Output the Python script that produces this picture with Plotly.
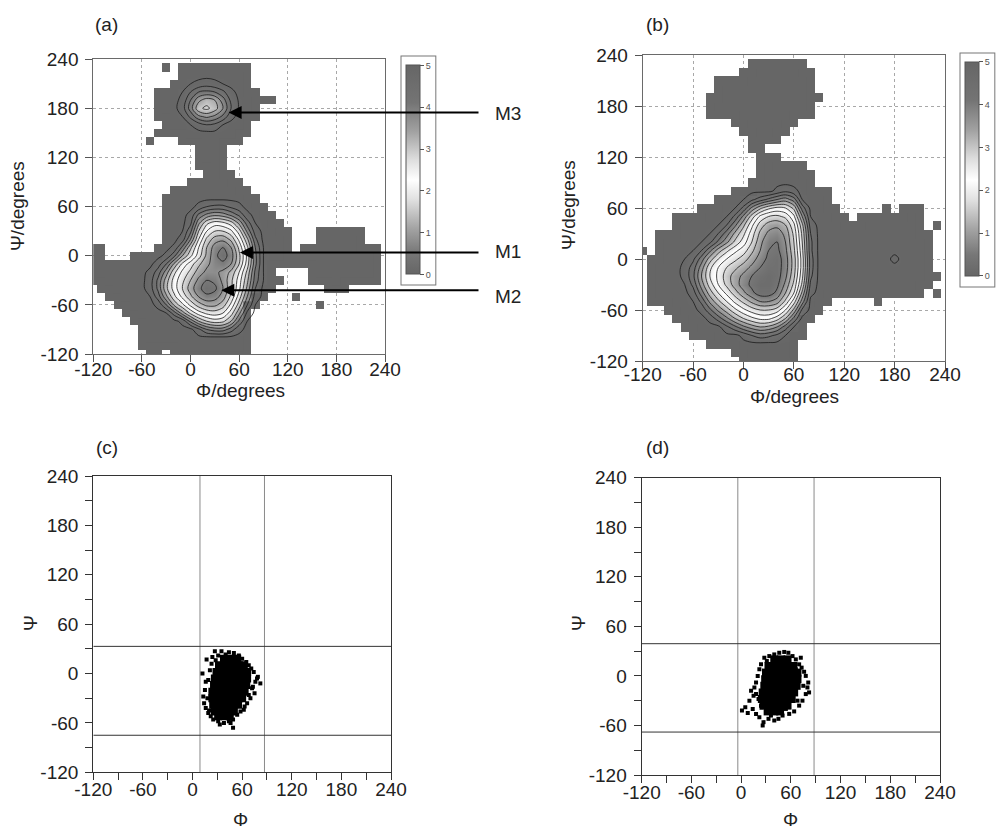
import numpy as np
import plotly.graph_objects as go

# ---------------- data (degrees) ----------------
GRID = list(range(-120, 241, 10))          # bin centres for Phi and Psi
TICK_VALS = [-120, -60, 0, 60, 120, 180, 240]
TICK_TEXT = ['-120', '-60', '0', '60', '120', '180', '240']
CBAR_TICKS = [0, 1, 2, 3, 4, 5]

# visited bins, per Psi row: list of (Phi_from, Phi_to) spans
MASK_A = {
    230: [(-30, -30), (-10, 70)], 220: [(-10, 70)], 210: [(-20, 70)], 200: [(-40, 80)],
    190: [(-40, 100)], 180: [(-40, 80)], 170: [(-40, 80)], 160: [(-30, 70)],
    150: [(-40, 70)], 140: [(-50, -50), (-10, 60)], 130: [(10, 40)], 120: [(10, 40)],
    110: [(10, 40)], 100: [(20, 50)], 90: [(0, 60)], 80: [(-20, 70)], 70: [(-30, 80)],
    60: [(-30, 90)], 50: [(-30, 100)], 40: [(-30, 110)], 30: [(-30, 120), (160, 210)],
    20: [(-30, 120), (160, 210)], 10: [(-120, -110), (-40, 120), (140, 230)],
    0: [(-120, -110), (-70, 230)], -10: [(-120, 230)], -20: [(-120, 100), (150, 230)],
    -30: [(-120, 110), (150, 230)], -40: [(-110, 100), (170, 190)],
    -50: [(-100, 90), (130, 130)], -60: [(-90, 80), (160, 160)], -70: [(-80, 70)],
    -80: [(-70, 70)], -90: [(-60, 70)], -100: [(-60, 70)], -110: [(-60, 70)],
    -120: [(-50, -40), (-20, 70)],
}
MASK_B = {
    230: [(10, 70)], 220: [(0, 80)], 210: [(-30, 80)], 200: [(-30, 80)], 190: [(-40, 90)],
    180: [(-40, 80)], 170: [(-40, 80)], 160: [(-10, 60)], 150: [(0, 50)], 140: [(10, 40)],
    130: [(10, 20)], 120: [(20, 40)], 110: [(20, 70)], 100: [(20, 80)], 90: [(10, 80)],
    80: [(-10, 100)], 70: [(-30, 100)], 60: [(-50, 110), (170, 170), (190, 210)],
    50: [(-80, 120), (140, 210)], 40: [(-80, 210), (230, 230)], 30: [(-100, 220)],
    20: [(-100, 220)], 10: [(-120, -120), (-100, 220)], 0: [(-110, 220)],
    -10: [(-110, 220)], -20: [(-110, 230)], -30: [(-110, 220)],
    -40: [(-110, 210), (230, 230)], -50: [(-110, 100), (160, 160)], -60: [(-90, 90)],
    -70: [(-80, 80)], -80: [(-70, 70)], -90: [(-60, 70)], -100: [(-40, 60)],
    -110: [(-10, 60)], -120: [(0, 60)],
}

# free-energy (kcal/mol) in the basins; everything else visited is 5
A_BASIN_PHI = list(range(-60, 101, 10))
A_BASIN_PSI = list(range(70, -101, -10))
A_BASIN_G = [
    [5, 5, 5, 5, 5, 5, 5, 5, 5, 5, 5, 5, 5, 5, 5, 5, 5],
    [5, 5, 5, 5, 5, 5, 5, 4.8, 4.5, 4.4, 4.4, 4.6, 4.8, 5, 5, 5, 5],
    [5, 5, 5, 5, 5, 5, 4.8, 4.0, 3.6, 3.4, 3.5, 3.8, 4.2, 4.8, 5, 5, 5],
    [5, 5, 5, 5, 5, 5, 4.6, 3.4, 2.6, 2.3, 2.4, 2.7, 3.4, 4.3, 4.9, 5, 5],
    [5, 5, 5, 5, 5, 4.9, 4.2, 2.9, 2.1, 1.7, 1.7, 2.0, 2.7, 3.8, 4.7, 5, 5],
    [5, 5, 5, 5, 5, 4.7, 3.7, 2.5, 1.6, 1.1, 1.0, 1.4, 2.2, 3.2, 4.4, 5, 5],
    [5, 5, 5, 5, 4.8, 4.0, 3.0, 2.1, 1.3, 0.7, 0.5, 0.9, 1.8, 2.8, 4.1, 4.9, 5],
    [5, 5, 5, 4.8, 4.2, 3.3, 2.6, 1.9, 1.2, 0.6, 0.3, 0.7, 1.6, 2.6, 4.0, 4.9, 5],
    [5, 5, 4.7, 4.1, 3.2, 2.4, 1.9, 1.4, 1.0, 0.7, 0.6, 0.9, 1.7, 2.7, 4.0, 4.9, 5],
    [5, 4.8, 4.3, 3.5, 2.6, 2.0, 1.6, 1.1, 0.8, 0.8, 1.0, 1.4, 2.1, 3.0, 4.2, 4.9, 5],
    [5, 4.7, 4.0, 3.1, 2.3, 1.8, 1.3, 0.8, 0.5, 0.6, 1.0, 1.6, 2.3, 3.2, 4.3, 4.9, 5],
    [5, 4.7, 4.0, 3.0, 2.3, 1.7, 1.1, 0.6, 0.3, 0.4, 0.9, 1.6, 2.4, 3.4, 4.5, 5, 5],
    [5, 4.9, 4.3, 3.4, 2.6, 2.0, 1.4, 0.9, 0.6, 0.7, 1.1, 1.8, 2.7, 3.7, 4.7, 5, 5],
    [5, 5, 4.8, 4.1, 3.2, 2.6, 2.0, 1.5, 1.2, 1.2, 1.5, 2.2, 3.1, 4.1, 4.9, 5, 5],
    [5, 5, 5, 4.9, 4.3, 3.5, 2.8, 2.3, 2.0, 1.9, 2.1, 2.7, 3.6, 4.6, 5, 5, 5],
    [5, 5, 5, 5, 5, 4.8, 4.0, 3.3, 2.9, 2.7, 2.8, 3.3, 4.2, 4.9, 5, 5, 5],
    [5, 5, 5, 5, 5, 5, 5, 4.6, 4.1, 3.9, 3.9, 4.3, 4.8, 5, 5, 5, 5],
    [5, 5, 5, 5, 5, 5, 5, 5, 5, 5, 5, 5, 5, 5, 5, 5, 5],
]
A_M3_PHI = list(range(-20, 71, 10))
A_M3_PSI = list(range(220, 149, -10))
A_M3_G = [
    [5, 5, 5, 5, 5, 5, 5, 5, 5, 5],
    [5, 5, 4.9, 4.8, 4.7, 4.8, 4.9, 5, 5, 5],
    [5, 4.9, 4.5, 4.1, 4.0, 4.1, 4.4, 4.8, 5, 5],
    [5, 4.8, 4.1, 3.4, 3.1, 3.3, 3.9, 4.6, 4.95, 5],
    [5, 4.7, 3.9, 3.0, 2.8, 3.1, 3.7, 4.5, 4.95, 5],
    [5, 4.9, 4.4, 3.8, 3.6, 3.8, 4.2, 4.8, 5, 5],
    [5, 5, 4.9, 4.7, 4.5, 4.6, 4.9, 5, 5, 5],
    [5, 5, 5, 5, 5, 5, 5, 5, 5, 5],
]
B_BASIN_PHI = list(range(-80, 101, 10))
B_BASIN_PSI = list(range(90, -101, -10))
B_BASIN_G = [
    [5, 5, 5, 5, 5, 5, 5, 5, 5, 5, 5, 5, 5, 5, 5, 5, 5, 5, 5],
    [5, 5, 5, 5, 5, 5, 5, 5, 5, 5, 5, 5, 4.8, 4.6, 4.8, 5, 5, 5, 5],
    [5, 5, 5, 5, 5, 5, 5, 5, 4.9, 4.6, 4.3, 4.0, 3.7, 3.5, 3.9, 4.9, 5, 5, 5],
    [5, 5, 5, 5, 5, 5, 5, 4.9, 4.4, 3.6, 3.0, 2.6, 2.4, 2.5, 3.0, 4.3, 5, 5, 5],
    [5, 5, 5, 5, 5, 5, 4.9, 4.4, 3.6, 2.7, 2.0, 1.7, 1.6, 1.8, 2.4, 3.7, 4.9, 5, 5],
    [5, 5, 5, 5, 5, 4.9, 4.5, 3.8, 3.0, 2.2, 1.5, 1.1, 1.0, 1.3, 2.0, 3.2, 4.7, 5, 5],
    [5, 5, 5, 5, 4.9, 4.5, 3.9, 3.2, 2.6, 1.9, 1.2, 0.8, 0.7, 1.0, 1.8, 3.0, 4.5, 5, 5],
    [5, 5, 5, 4.9, 4.6, 4.0, 3.4, 2.8, 2.3, 1.7, 1.0, 0.6, 0.5, 0.9, 1.7, 2.9, 4.4, 5, 5],
    [5, 5, 4.9, 4.5, 3.8, 3.1, 2.6, 2.2, 1.9, 1.4, 0.9, 0.5, 0.4, 0.8, 1.6, 2.8, 4.4, 5, 5],
    [5, 4.9, 4.6, 3.9, 3.1, 2.5, 2.1, 1.8, 1.5, 1.1, 0.7, 0.4, 0.3, 0.7, 1.5, 2.7, 4.3, 5, 5],
    [5, 4.8, 4.3, 3.5, 2.6, 2.1, 1.7, 1.4, 1.1, 0.8, 0.5, 0.3, 0.3, 0.7, 1.5, 2.7, 4.3, 5, 5],
    [5, 4.8, 4.2, 3.3, 2.5, 2.0, 1.5, 1.1, 0.8, 0.5, 0.3, 0.2, 0.3, 0.8, 1.6, 2.8, 4.4, 5, 5],
    [5, 4.9, 4.4, 3.5, 2.7, 2.1, 1.6, 1.1, 0.7, 0.4, 0.2, 0.2, 0.4, 1.0, 1.8, 3.0, 4.6, 5, 5],
    [5, 5, 4.7, 3.9, 3.1, 2.5, 2.0, 1.5, 1.0, 0.6, 0.3, 0.3, 0.6, 1.3, 2.1, 3.4, 4.8, 5, 5],
    [5, 5, 4.9, 4.4, 3.6, 3.0, 2.5, 2.0, 1.6, 1.2, 0.9, 0.9, 1.1, 1.8, 2.7, 3.9, 5, 5, 5],
    [5, 5, 5, 4.8, 4.2, 3.6, 3.1, 2.6, 2.2, 1.9, 1.7, 1.7, 1.9, 2.5, 3.4, 4.6, 5, 5, 5],
    [5, 5, 5, 5, 4.8, 4.3, 3.8, 3.3, 2.9, 2.6, 2.4, 2.4, 2.7, 3.3, 4.2, 5, 5, 5, 5],
    [5, 5, 5, 5, 5, 5, 4.6, 4.2, 3.8, 3.5, 3.3, 3.4, 3.7, 4.3, 4.9, 5, 5, 5, 5],
    [5, 5, 5, 5, 5, 5, 5, 5, 4.8, 4.5, 4.3, 4.4, 4.6, 4.9, 5, 5, 5, 5, 5],
    [5, 5, 5, 5, 5, 5, 5, 5, 5, 5, 5, 5, 5, 5, 5, 5, 5, 5, 5],
]
B_DOT_PHI = [170, 180, 190]
B_DOT_PSI = [10, 0, -10]
B_DOT_G = [[5, 5, 5], [5, 4.8, 5], [5, 5, 5]]

# (c) / (d) sampled conformations
C_CORE_PHI = [38, 46, 54, 32, 40, 48, 56, 62, 29, 37, 45, 53, 61, 66, 27, 35, 43, 51, 59, 66,
              26, 34, 42, 50, 58, 65, 24, 32, 40, 48, 56, 63, 24, 32, 40, 48, 56, 60,
              25, 33, 41, 49, 55, 27, 35, 43, 50, 31, 39, 45]
C_CORE_PSI = [18, 18, 18, 10, 10, 10, 10, 10, 2, 2, 2, 2, 2, 2, -6, -6, -6, -6, -6, -6,
              -14, -14, -14, -14, -14, -14, -22, -22, -22, -22, -22, -22, -30, -30, -30, -30, -30, -30,
              -38, -38, -38, -38, -38, -46, -46, -46, -46, -52, -52, -52]
C_PHI = [27, 35, 44, 50, 17, 24, 31, 56, 60, 65, 68, 71, 74, 79, 82, 76, 72, 75, 70, 66,
         63, 58, 54, 49, 44, 38, 31, 25, 22, 19, 16, 14, 13, 15, 16, 12, 19, 21, 23, 28,
         49, 20, 18, 62, 68, 73, 78, 33, 46, 40]
C_PSI = [27, 27, 26, 25, 17, 20, 22, 22, 18, 14, 10, 6, 2, -4, -12, -10, -18, -24, -30, -36,
         -40, -46, -50, -56, -58, -60, -58, -56, -52, -48, -42, -36, -28, -20, -10, 0, -8, 4, 12, 16,
         -66, -45, -30, -44, -26, -16, -6, -62, -60, 23]
C_PHI_LINES = [9, 87]
C_PSI_LINES = [33, -75]

D_CORE_PHI = [40, 48, 56, 33, 41, 49, 57, 63, 30, 38, 46, 54, 62, 68, 29, 37, 45, 53, 61, 68,
              28, 36, 44, 52, 60, 67, 26, 34, 42, 50, 58, 64, 25, 33, 41, 49, 57, 61,
              27, 35, 43, 51, 56, 32, 40, 47]
D_CORE_PSI = [20, 20, 20, 12, 12, 12, 12, 12, 4, 4, 4, 4, 4, 4, -4, -4, -4, -4, -4, -4,
              -12, -12, -12, -12, -12, -12, -20, -20, -20, -20, -20, -20, -28, -28, -28, -28, -28, -28,
              -36, -36, -36, -36, -36, -43, -43, -43]
D_PHI = [10, 5, 1, 8, 14, 18, 22, 27, 26, 33, 40, 45, 50, 58, 64, 70, 74, 78, 80, 81,
         78, 76, 73, 70, 72, 66, 62, 57, 52, 46, 40, 34, 28, 24, 22, 20, 18, 16, 18, 21,
         15, 12, 24, 36, 54, 68, 75, 66, 31, 82]
D_PSI = [-30, -38, -42, -45, -40, -46, -50, -56, -60, -52, -54, -52, -48, -46, -43, -36, -30, -22, -14, -8,
         0, 5, 10, 14, 22, 20, 24, 28, 29, 28, 26, 24, 22, 14, 8, 0, -8, -14, -22, -28,
         -24, -18, -36, -48, -40, -30, -12, 8, 18, -20]
D_PHI_LINES = [-4, 88]
D_PSI_LINES = [39, -68]

# arrows in (a): label, tip Phi, tip Psi
ARROW_LABELS = ['M3', 'M1', 'M2']
ARROW_PHI = [47, 61, 38]
ARROW_PSI = [175, 4, -42]

# ---------------- helpers ----------------
N = len(GRID)
W, H = 1002, 831
FONT = 'Liberation Sans, Arial, sans-serif'
FS = 19
DARK = '#666666'
CSCALE = [[0.0, '#666666'], [0.1, '#777777'], [0.22, '#a4a4a4'], [0.36, '#e2e2e2'],
          [0.45, '#ffffff'], [0.55, '#dcdcdc'], [0.68, '#a2a2a2'], [0.82, '#747474'],
          [1.0, '#666666']]


def idx(v):
    return (v + 120) // 10


def occupancy(spans):
    g = np.zeros((N, N), dtype=bool)
    for psi, segs in spans.items():
        for a, b in segs:
            g[idx(psi), idx(a):idx(b) + 1] = True
    return g


def energy(windows):
    g = np.full((N, N), 5.0)
    for phis, psis, vals in windows:
        for r, psi in enumerate(psis):
            for c, phi in enumerate(phis):
                g[idx(psi), idx(phi)] = vals[r][c]
    return g


def interior(occ):
    p = np.pad(occ, 1, constant_values=False)
    out = np.ones_like(occ)
    for dr in (-1, 0, 1):
        for dc in (-1, 0, 1):
            out &= p[1 + dr:1 + dr + N, 1 + dc:1 + dc + N]
    return out


def px(x):
    return x / W


def py(y):
    return 1 - y / H


fig = go.Figure()


def fes_panel(k, spans, windows, cax):
    xa, ya = ('x', 'y') if k == 1 else ('x%d' % k, 'y%d' % k)
    occ = occupancy(spans)
    g = energy(windows)
    mask_z = [[1 if occ[r, c] else None for c in range(N)] for r in range(N)]
    fig.add_trace(go.Heatmap(x=GRID, y=GRID, z=mask_z, zsmooth=False, showscale=False,
                             colorscale=[[0, DARK], [1, DARK]], hoverinfo='skip',
                             xaxis=xa, yaxis=ya))
    inn = interior(occ)
    smooth_z = [[float(g[r, c]) if inn[r, c] else None for c in range(N)] for r in range(N)]
    fig.add_trace(go.Heatmap(x=GRID, y=GRID, z=smooth_z, zsmooth='best', coloraxis=cax,
                             hoverinfo='skip', xaxis=xa, yaxis=ya))
    fig.add_trace(go.Contour(x=GRID, y=GRID, z=g.tolist(), showscale=False,
                             contours=dict(start=0.5, end=4.9, size=0.4, coloring='none'),
                             line=dict(color='#1a1a1a', width=0.8, smoothing=1.0),
                             hoverinfo='skip', xaxis=xa, yaxis=ya))


fes_panel(1, MASK_A, [(A_BASIN_PHI, A_BASIN_PSI, A_BASIN_G), (A_M3_PHI, A_M3_PSI, A_M3_G)],
          'coloraxis')
fes_panel(2, MASK_B, [(B_BASIN_PHI, B_BASIN_PSI, B_BASIN_G), (B_DOT_PHI, B_DOT_PSI, B_DOT_G)],
          'coloraxis2')


def scatter_panel(k, core_phi, core_psi, phi, psi):
    xa, ya = 'x%d' % k, 'y%d' % k
    fig.add_trace(go.Scatter(x=core_phi, y=core_psi, mode='markers', xaxis=xa, yaxis=ya,
                             marker=dict(symbol='square', size=8, color='black'),
                             hoverinfo='skip'))
    fig.add_trace(go.Scatter(x=phi, y=psi, mode='markers', xaxis=xa, yaxis=ya,
                             marker=dict(symbol='square', size=4, color='black'),
                             hoverinfo='skip'))


scatter_panel(3, C_CORE_PHI, C_CORE_PSI, C_PHI, C_PSI)
scatter_panel(4, D_CORE_PHI, D_CORE_PSI, D_PHI, D_PSI)

shapes = []
for k, vl, hl in [(3, C_PHI_LINES, C_PSI_LINES), (4, D_PHI_LINES, D_PSI_LINES)]:
    for v in vl:
        shapes.append(dict(type='line', xref='x%d' % k, yref='y%d' % k, x0=v, x1=v,
                           y0=-120, y1=240, line=dict(color='#8a8a8a', width=1), layer='below'))
    for h in hl:
        shapes.append(dict(type='line', xref='x%d' % k, yref='y%d' % k, x0=-120, x1=240,
                           y0=h, y1=h, line=dict(color='#333333', width=1), layer='below'))

# axes domains (pixel boxes of the plot areas)
BOX = {1: (93.3, 385, 59.3, 354), 2: (642.7, 945, 55, 361),
       3: (93.3, 391, 476, 772.3), 4: (641.7, 940, 477.7, 775)}
XSTAND = {1: -9, 2: -11, 3: -7, 4: -7}


def axis_common(k, is_x):
    grid = k <= 2
    d = dict(range=[-120, 240], tickmode='array', tickvals=TICK_VALS, ticktext=TICK_TEXT,
             ticks='outside', ticklen=7, tickwidth=1, zeroline=False, showline=True,
             mirror=True, automargin=False, ticklabelstandoff=(XSTAND[k] if is_x else 3),
             tickfont=dict(size=FS, color='#222222', family=FONT))
    if grid:
        d.update(showgrid=True, gridcolor='#a8a8a8', griddash='dot', gridwidth=1,
                 linecolor='#6a6a6a', linewidth=1, tickcolor='#555555')
    else:
        d.update(showgrid=False, linecolor='#333333', linewidth=1.3, tickcolor='#333333',
                 minor=dict(tickmode='linear', tick0=-120, dtick=30, ticks='outside',
                            ticklen=7, tickcolor='#333333', showgrid=False))
    return d


layout = dict(template='none', width=W, height=H, margin=dict(l=0, r=0, t=0, b=0, pad=0),
              showlegend=False, plot_bgcolor='white', paper_bgcolor='white',
              font=dict(family=FONT, color='#222222'), shapes=shapes)
for k in (1, 2, 3, 4):
    x0, x1, y0, y1 = BOX[k]
    sx = '' if k == 1 else str(k)
    xa = axis_common(k, True)
    xa.update(domain=[px(x0), px(x1)], anchor='y' + sx)
    ya = axis_common(k, False)
    ya.update(domain=[py(y1), py(y0)], anchor='x' + sx)
    layout['xaxis' + sx] = xa
    layout['yaxis' + sx] = ya


def cbar(xleft, ytop, ybot):
    return dict(x=px(xleft), xanchor='left', y=py((ytop + ybot) / 2), yanchor='middle',
                len=ybot - ytop, lenmode='pixels', thickness=14, thicknessmode='pixels',
                xpad=4, ypad=9, outlinewidth=1, outlinecolor='#555555', borderwidth=1,
                bordercolor='#777777', tickmode='array', tickvals=CBAR_TICKS, ticks='outside',
                ticklen=4, tickcolor='#555555', tickfont=dict(size=9, color='#555555'))


layout['coloraxis'] = dict(colorscale=CSCALE, cmin=0, cmax=5, colorbar=cbar(401.7, 56.7, 283.3))
layout['coloraxis2'] = dict(colorscale=CSCALE, cmin=0, cmax=5, colorbar=cbar(961, 52.7, 285))

ann = []


def text(s, x, y, size=FS, angle=0):
    ann.append(dict(text=s, x=px(x), y=py(y), xref='paper', yref='paper', showarrow=False,
                    xanchor='center', yanchor='middle', textangle=angle,
                    font=dict(size=size, family=FONT, color='#222222')))


text('(a)', 106, 25)
text('(b)', 657, 25)
text('(c)', 107, 448)
text('(d)', 657, 448)
text('Φ/degrees', 240, 390)
text('Ψ/degrees', 17, 206, angle=-90)
text('Φ/degrees', 794, 396)
text('Ψ/degrees', 568, 205, angle=-90)
text('Φ', 240, 819)
text('Ψ', 30, 623, angle=-90)
text('Φ', 790, 819)
text('Ψ', 578, 623, angle=-90)

LABEL_Y = [114, 252, 296]
for lab, phi, psi, ly in zip(ARROW_LABELS, ARROW_PHI, ARROW_PSI, LABEL_Y):
    tip_px = BOX[1][0] + (phi + 120) / 360 * (BOX[1][1] - BOX[1][0])
    ann.append(dict(text='', x=phi, y=psi, xref='x', yref='y', showarrow=True,
                    ax=480 - tip_px, ay=0, arrowhead=2, arrowsize=1.3, arrowwidth=2,
                    arrowcolor='black'))
    text(lab, 508, ly)

layout['annotations'] = ann
fig.update_layout(**layout)
fig.write_html('out.html', config={'displayModeBar': False},
               post_script="document.body.style.margin='0';document.body.style.overflow='hidden';")
